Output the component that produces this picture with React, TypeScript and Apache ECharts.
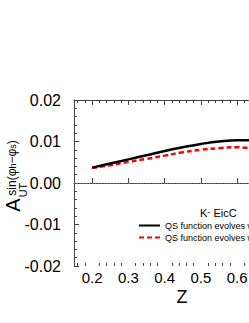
import React, { useEffect, useRef } from "react";
import * as echarts from "echarts";

const zValues = [0.2, 0.25, 0.3, 0.35, 0.4, 0.45, 0.5, 0.55, 0.6, 0.625, 0.65];
const withEvolution = [0.0037, 0.0047, 0.0057, 0.0067, 0.0077, 0.0086, 0.0094, 0.01, 0.0103, 0.0103, 0.0105];
const withoutEvolution = [0.0036, 0.0043, 0.0051, 0.0058, 0.0066, 0.0074, 0.008, 0.0084, 0.0086, 0.0085, 0.0084];
const xTickLabels = [0.2, 0.3, 0.4, 0.5, 0.6, 0.7, 0.8, 0.9];
const seriesNames = ["QS function evolves with TMD evolution", "QS function evolves without TMD evolution"];

const FONT = "'Liberation Sans', Arial, sans-serif";

export default function App() {
  const ref = useRef<HTMLDivElement>(null);
  useEffect(() => {
    if (!ref.current) return;
    const chart = echarts.init(ref.current, undefined, { renderer: "svg" });
    const minor: number[] = [];
    for (let i = 8; i <= 45; i++) {
      const v = Math.round(i * 2) / 100;
      if (i % 5 !== 0) minor.push(v);
    }
    const axisColor = "#444";
    const baseX = {
      type: "value",
      min: 0.15,
      max: 0.9,
      splitLine: { show: false },
      axisLine: { show: true, lineStyle: { color: axisColor, width: 1 } },
    };
    chart.setOption({
      animation: false,
      grid: { left: 74, top: 100, height: 166, width: 272, outerBoundsMode: "none" },
      xAxis: [
        {
          ...baseX,
          position: "bottom",
          axisTick: { show: true, inside: true, length: 5, customValues: xTickLabels, lineStyle: { color: axisColor } },
          axisLabel: {
            show: true,
            customValues: xTickLabels,
            formatter: (v: number) => v.toFixed(1),
            fontSize: 15,
            color: "#000",
            fontFamily: FONT,
            margin: 4,
          },
        },
        {
          ...baseX,
          position: "bottom",
          axisLine: { show: false },
          axisTick: { show: true, inside: true, length: 3, customValues: minor, lineStyle: { color: axisColor } },
          axisLabel: { show: false },
        },
        {
          ...baseX,
          position: "top",
          axisTick: { show: true, inside: true, length: 5, customValues: xTickLabels, lineStyle: { color: axisColor } },
          axisLabel: { show: false },
        },
        {
          ...baseX,
          position: "top",
          axisLine: { show: false },
          axisTick: { show: true, inside: true, length: 3, customValues: minor, lineStyle: { color: axisColor } },
          axisLabel: { show: false },
        },
      ],
      yAxis: {
        type: "value",
        min: -0.02,
        max: 0.02,
        interval: 0.01,
        splitLine: { show: false },
        axisLine: { show: true, lineStyle: { color: axisColor, width: 1 } },
        axisTick: { show: true, inside: true, length: 5, lineStyle: { color: axisColor } },
        minorTick: { show: true, splitNumber: 5, length: 3, lineStyle: { color: axisColor } },
        axisLabel: {
          formatter: (v: number) => (Math.abs(v) < 1e-9 ? "0.00" : v.toFixed(2)),
          fontSize: 16,
          color: "#000",
          fontFamily: FONT,
          margin: 13,
        },
      },
      legend: {
        orient: "vertical",
        left: 138,
        top: 221,
        padding: 0,
        itemWidth: 21,
        itemHeight: 1,
        itemGap: 3,
        textStyle: { fontSize: 9, color: "#000", fontFamily: FONT },
        data: seriesNames,
      },
      series: [
        {
          name: seriesNames[0],
          type: "line",
          symbol: "none",
          smooth: true,
          data: zValues.map((z, i) => [z, withEvolution[i]]),
          lineStyle: { color: "#000", width: 2.5 },
          itemStyle: { color: "#000" },
          markLine: {
            silent: true,
            symbol: ["none", "none"],
            label: { show: false },
            lineStyle: { color: "#888", type: [1, 2], width: 0.8 },
            data: [{ yAxis: 0 }],
          },
          z: 3,
        },
        {
          name: seriesNames[1],
          type: "line",
          symbol: "none",
          smooth: true,
          data: zValues.map((z, i) => [z, withoutEvolution[i]]),
          lineStyle: { color: "#ff0000", width: 2.5, type: [5, 3] },
          itemStyle: { color: "#ff0000" },
          z: 2,
        },
      ],
      graphic: [
        {
          type: "text",
          x: 12.5,
          y: 205,
          rotation: Math.PI / 2,
          style: { text: "A", fontSize: 20, fontFamily: FONT, fill: "#000", align: "center", verticalAlign: "middle" },
        },
        {
          type: "text",
          x: 22.5,
          y: 190,
          rotation: Math.PI / 2,
          style: { text: "UT", fontSize: 11, fontFamily: FONT, fill: "#000", align: "center", verticalAlign: "middle" },
        },
        {
          type: "text",
          x: 11.5,
          y: 168,
          rotation: Math.PI / 2,
          style: {
            text: "{a|sin(φ}{b|h}{a|−φ}{b|s}{a|)}",
            fontFamily: FONT,
            fill: "#000",
            align: "center",
            verticalAlign: "middle",
            rich: {
              a: { fontSize: 12, fontFamily: FONT, fill: "#000", verticalAlign: "bottom" },
              b: { fontSize: 9, fontFamily: FONT, fill: "#000", verticalAlign: "bottom" },
            },
          },
        },
        {
          type: "text",
          x: 182,
          y: 296.5,
          style: { text: "Z", fontSize: 18, fontFamily: FONT, fill: "#000", align: "center", verticalAlign: "middle" },
        },
        {
          type: "text",
          x: 200,
          y: 213,
          style: {
            text: "{k|K}{s|-}{t| EicC}",
            fontFamily: FONT,
            fill: "#000",
            align: "left",
            verticalAlign: "middle",
            rich: {
              k: { fontSize: 11, fontFamily: FONT, fill: "#000", verticalAlign: "bottom" },
              s: { fontSize: 9, fontFamily: FONT, fill: "#000", verticalAlign: "top" },
              t: { fontSize: 11, fontFamily: FONT, fill: "#000", verticalAlign: "bottom" },
            },
          },
        },
      ],
    });
    return () => chart.dispose();
  }, []);
  return (
    <div style={{ position: "absolute", left: 0, top: 0, width: 249, height: 323, overflow: "hidden", background: "#fff" }}>
      <div ref={ref} style={{ width: 420, height: 323 }} />
    </div>
  );
}
